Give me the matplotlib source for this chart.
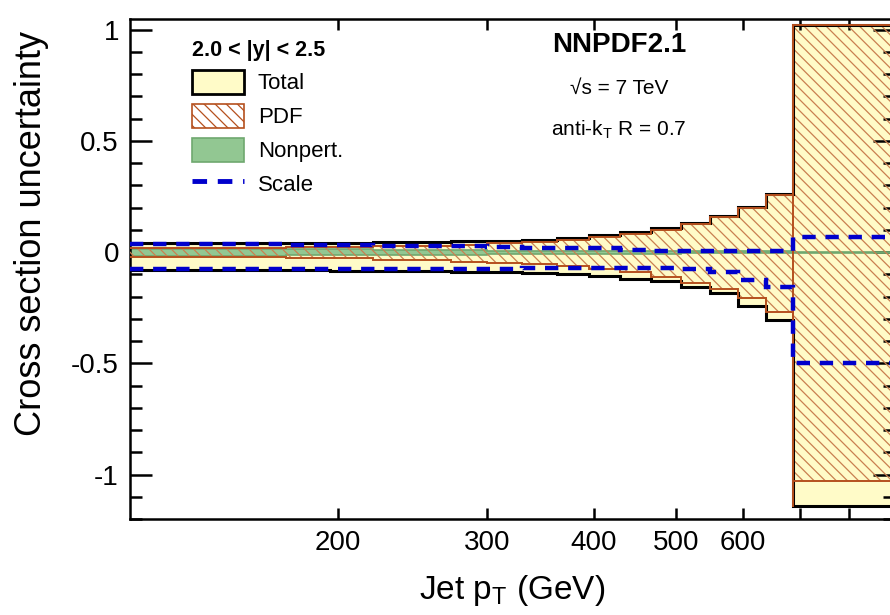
import matplotlib
matplotlib.use("Agg")
import matplotlib.pyplot as plt
import numpy as np
from matplotlib.patches import Patch
from matplotlib.lines import Line2D
from matplotlib.ticker import FixedLocator, FixedFormatter, MultipleLocator, NullLocator

plt.rcParams['font.family'] = ['Liberation Sans', 'DejaVu Sans']
plt.rcParams['axes.unicode_minus'] = False
plt.rcParams['hatch.linewidth'] = 0.9

# Bin edges (GeV)
edges = [114, 133, 153, 174, 196, 220, 245, 272, 300, 330, 362, 395, 430,
         468, 507, 548, 592, 638, 686, 905]

total_hi = [0.043, 0.043, 0.043, 0.043, 0.043, 0.044, 0.044, 0.048, 0.051,
            0.056, 0.064, 0.077, 0.090, 0.106, 0.130, 0.163, 0.202, 0.261, 1.02]
total_lo = [-0.081, -0.081, -0.081, -0.081, -0.086, -0.086, -0.086, -0.090,
            -0.090, -0.093, -0.100, -0.108, -0.120, -0.130, -0.156, -0.182,
            -0.243, -0.305, -1.14]
pdf_hi = [0.020, 0.020, 0.020, 0.022, 0.024, 0.027, 0.027, 0.034, 0.040,
          0.047, 0.055, 0.068, 0.082, 0.100, 0.124, 0.158, 0.197, 0.255, 1.02]
pdf_lo = [-0.022, -0.022, -0.022, -0.028, -0.028, -0.035, -0.035, -0.045,
          -0.050, -0.052, -0.062, -0.074, -0.089, -0.110, -0.138, -0.164,
          -0.205, -0.270, -1.03]
np_hi = [0.015, 0.015, 0.015, 0.013, 0.013, 0.010, 0.010, 0.010, 0.007,
         0.007, 0.007, 0.005, 0.005, 0.005, 0.003, 0.003, 0.003, 0.003, 0.002]
np_lo = [-0.017, -0.017, -0.017, -0.015, -0.015, -0.012, -0.012, -0.012,
         -0.010, -0.010, -0.010, -0.008, -0.008, -0.008, -0.004, -0.004,
         -0.004, -0.004, -0.002]
scale_hi = [0.036, 0.036, 0.036, 0.030, 0.030, 0.026, 0.026, 0.026, 0.024,
            0.018, 0.018, 0.018, 0.008, 0.007, 0.006, 0.005, 0.005, 0.005, 0.068]
scale_lo = [-0.077, -0.077, -0.077, -0.077, -0.077, -0.077, -0.077, -0.077,
            -0.077, -0.072, -0.072, -0.072, -0.072, -0.070, -0.078, -0.088,
            -0.126, -0.158, -0.50]

xticks = [200, 300, 400, 500, 600, 700, 800]
xticklabels = ['200', '300', '400', '500', '600', '', '']
yticks = [-1, -0.5, 0, 0.5, 1]
yticklabels = ['-1', '-0.5', '0', '0.5', '1']

YELLOW = '#FFFBC8'
BROWN = '#B5501E'
HATCH = '#C98050'
GREEN = '#92C792'
GREEN_E = '#6FA86F'
BLUE = '#0000CC'


def ext(a):
    return list(a) + [a[-1]]


fig = plt.figure(figsize=(8.9, 6.15), dpi=100)
ax = fig.add_axes([130 / 890, 96 / 615, 765 / 890, 500.5 / 615])
ax.set_xscale('log')

# Total
ax.fill_between(edges, ext(total_lo), ext(total_hi), step='post',
                facecolor=YELLOW, edgecolor='none', linewidth=0, zorder=1)
# Nonperturbative
ax.fill_between(edges, ext(np_lo), ext(np_hi), step='post',
                facecolor=GREEN, edgecolor='none', linewidth=0, zorder=2)
ax.stairs(np_hi, edges, baseline=None, color=GREEN_E, lw=1.2, zorder=2)
ax.stairs(np_lo, edges, baseline=None, color=GREEN_E, lw=1.2, zorder=2)
# PDF hatch
ax.fill_between(edges, ext(pdf_lo), ext(pdf_hi), step='post',
                facecolor='none', edgecolor=HATCH, hatch='\\\\\\',
                linewidth=0, zorder=3)
# Total outline
ax.stairs(total_hi, edges, baseline=None, color='black', lw=2.2, zorder=4)
ax.stairs(total_lo, edges, baseline=None, color='black', lw=2.2, zorder=4)
# PDF outline
ax.stairs(pdf_hi, edges, baseline=None, color=BROWN, lw=1.4, zorder=5)
ax.stairs(pdf_lo, edges, baseline=None, color=BROWN, lw=1.4, zorder=5)
ax.plot([edges[-2], edges[-2]], [total_lo[-1], total_hi[-1]], color=BROWN, lw=1.4, zorder=5)
# Scale
ax.stairs(scale_hi, edges, baseline=None, color=BLUE, lw=3.2,
          linestyle=(0, (3.0, 2.2)), zorder=6)
ax.stairs(scale_lo, edges, baseline=None, color=BLUE, lw=3.2,
          linestyle=(0, (3.0, 2.2)), zorder=6)

ax.set_xlim(114, 905)
ax.set_ylim(-1.2, 1.05)

ax.xaxis.set_major_locator(FixedLocator(xticks))
ax.xaxis.set_major_formatter(FixedFormatter(xticklabels))
ax.xaxis.set_minor_locator(NullLocator())
ax.yaxis.set_major_locator(FixedLocator(yticks))
ax.yaxis.set_major_formatter(FixedFormatter(yticklabels))
ax.yaxis.set_minor_locator(MultipleLocator(0.1))

ax.tick_params(axis='both', which='both', direction='in', top=True, right=True,
               width=1.8, labelsize=20)
ax.tick_params(axis='y', which='major', length=16)
ax.tick_params(axis='y', which='minor', length=8.5)
ax.tick_params(axis='x', which='major', length=8, pad=8)
ax.tick_params(axis='y', which='major', pad=8)
for s in ax.spines.values():
    s.set_linewidth(1.8)

ax.set_xlabel('Jet p$_\\mathregular{T}$ (GeV)', fontsize=24, labelpad=12)
ax.set_ylabel('Cross section uncertainty', fontsize=26)
ax.yaxis.set_label_coords(-0.106, 0.571)

handles = [
    Patch(facecolor=YELLOW, edgecolor='black', linewidth=2),
    Patch(facecolor='white', edgecolor=BROWN, hatch='\\\\\\', linewidth=1.2),
    Patch(facecolor=GREEN, edgecolor=GREEN_E, linewidth=1.2),
    Line2D([0], [0], color=BLUE, lw=3.5, linestyle=(0, (3.0, 2.2))),
]
labels = ['Total', 'PDF', 'Nonpert.', 'Scale']
leg = ax.legend(handles, labels, loc='upper left', bbox_to_anchor=(0.055, 0.998),
                frameon=False, fontsize=16, handlelength=2.35, handleheight=1.3,
                handletextpad=0.6, labelspacing=0.42,
                title='2.0 < |y| < 2.5', title_fontproperties={'weight': 'bold', 'size': 15.5})
leg._legend_box.align = 'left'

ax.text(0.639, 0.947, 'NNPDF2.1', transform=ax.transAxes, ha='center', va='center',
        fontsize=20, fontweight='bold')
ax.text(0.639, 0.860, '√s = 7 TeV', transform=ax.transAxes, ha='center', va='center',
        fontsize=15)
ax.text(0.639, 0.777, 'anti-k$_\\mathregular{T}$ R = 0.7', transform=ax.transAxes,
        ha='center', va='center', fontsize=15)

fig.savefig('out.png', dpi=100)
